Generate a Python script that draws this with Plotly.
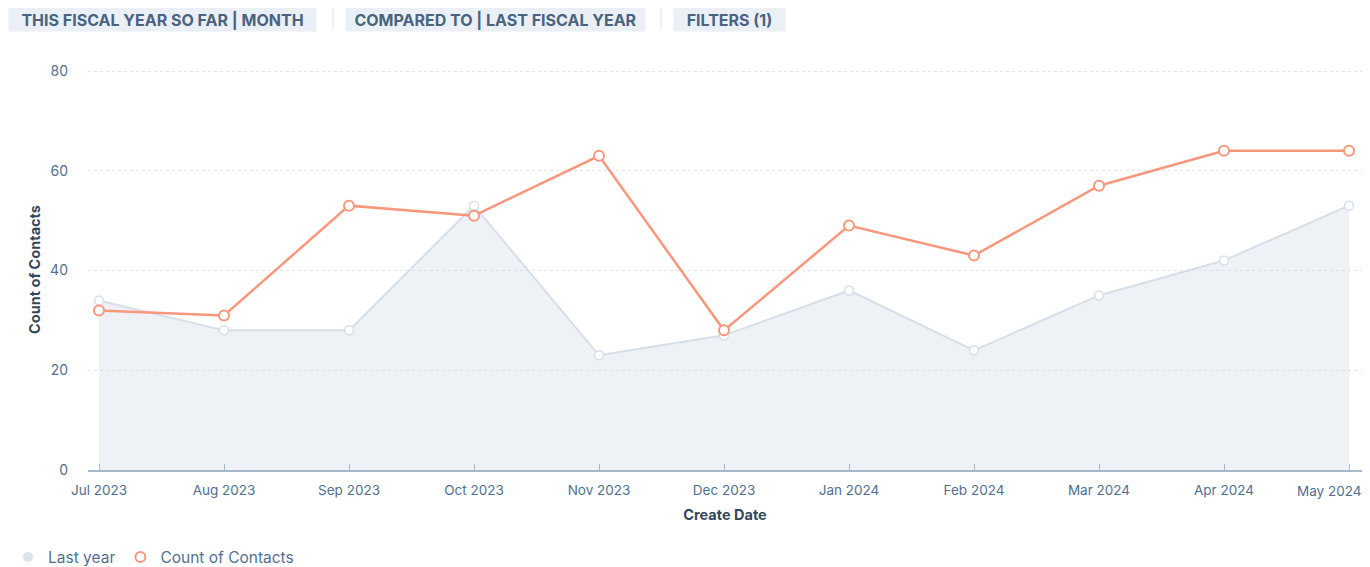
import plotly.graph_objects as go

months = ["Jul 2023", "Aug 2023", "Sep 2023", "Oct 2023", "Nov 2023", "Dec 2023",
          "Jan 2024", "Feb 2024", "Mar 2024", "Apr 2024", "May 2024"]
count_of_contacts = [32, 31, 53, 51, 63, 28, 49, 43, 57, 64, 64]
last_year = [34, 28, 28, 53, 23, 27, 36, 24, 35, 42, 53]
y_ticks = [0, 20, 40, 60, 80]
buttons = ["THIS FISCAL YEAR SO FAR | MONTH", "COMPARED TO | LAST FISCAL YEAR", "FILTERS (1)"]

# page geometry (the page body adds an 8px offset)
OFF = 8
PAGE_W, PAGE_H = 1370, 567
W, H = PAGE_W - OFF, PAGE_H - OFF
PL, PR, PT, PB = 88, 1362, 69, 470.5   # plot box in page pixels
L, R, T, B = PL - OFF, PAGE_W - PR, PT - OFF, PAGE_H - PB
PW, PH = PR - PL, PB - PT
Y_MAX = 80 * (PB - PT) / (PB - 71)

def px(x):
    return (x - PL) / PW

def py(y):
    return (PB - y) / PH

FONT = "Inter"
ORANGE = "#f9977c"
GREY_LINE = "#d6dee8"
GREY_FILL = "rgba(203,214,226,0.33)"
TEXT = "#33475b"
TICK = "#516f90"

fig = go.Figure()
xs = list(range(len(months)))
# last label is drawn as a shifted annotation so it stays inside the page
tick_text = months[:-1] + [""]

fig.add_trace(go.Scatter(
    x=xs, y=last_year, mode="lines+markers", name="Last year",
    line=dict(color=GREY_LINE, width=2), fill="tozeroy", fillcolor=GREY_FILL,
    marker=dict(size=9, color="white", line=dict(color=GREY_LINE, width=1.5)),
    showlegend=False, hoverinfo="y"))
fig.add_trace(go.Scatter(
    x=xs, y=count_of_contacts, mode="lines+markers", name="Count of Contacts",
    line=dict(color=ORANGE, width=2.5),
    marker=dict(size=10, color="white", line=dict(color=ORANGE, width=2)),
    showlegend=False, hoverinfo="y"))
# legend entries
fig.add_trace(go.Scatter(x=[None], y=[None], mode="markers", name="Last year",
                         marker=dict(size=10, color="#dde3ea")))
fig.add_trace(go.Scatter(x=[None], y=[None], mode="markers", name="Count of Contacts",
                         marker=dict(size=10, color="white", line=dict(color=ORANGE, width=2))))

fig.update_xaxes(
    range=[-11 / 125, 10 + 13 / 125], tickvals=xs, ticktext=tick_text,
    showgrid=False, zeroline=False, showline=True, linecolor="#a7b8ca", linewidth=1.5,
    ticks="inside", ticklen=6, tickcolor="#a7b8ca",
    ticklabelstandoff=7,
    tickfont=dict(family=FONT, size=13.5, color=TICK), automargin=False,
    title=dict(text="<b>Create Date</b>", font=dict(family=FONT, size=14.5, color=TEXT), standoff=13))
fig.update_yaxes(
    range=[0, Y_MAX], tickvals=y_ticks, showgrid=True, gridcolor="#dfe5ed", griddash="3px,3px",
    zeroline=False, showline=False, ticklabelstandoff=19, automargin=False,
    tickfont=dict(family=FONT, size=14, color=TICK),
    title=dict(text="<b>Count of Contacts</b>", font=dict(family=FONT, size=14.5, color=TEXT), standoff=6))

annotations = [dict(
    text=months[-1], xref="x", yref="paper", x=xs[-1], y=0, xanchor="center", yanchor="top",
    xshift=-20, yshift=-11, showarrow=False, font=dict(family=FONT, size=13.5, color=TICK))]
btn_boxes = [(8, 317), (345, 646), (673, 786)]
for text, (x0, x1) in zip(buttons, btn_boxes):
    annotations.append(dict(
        text=f"<b>{text}</b>", xref="paper", yref="paper", x=px((x0 + x1) / 2), y=py(19.5),
        xanchor="center", yanchor="middle", showarrow=False,
        width=x1 - x0 - 2, height=23, borderpad=0, bgcolor="#eaf0f6",
        font=dict(family=FONT, size=16, color="#4a6380")))

shapes = []
for sx in (333, 661):
    shapes.append(dict(type="line", xref="paper", yref="paper", x0=px(sx), x1=px(sx),
                       y0=py(6), y1=py(30), line=dict(color="#dfe3eb", width=1)))

fig.update_layout(
    width=W, height=H, margin=dict(l=L, r=R, t=T, b=B, autoexpand=False),
    plot_bgcolor="white", paper_bgcolor="white",
    annotations=annotations, shapes=shapes,
    legend=dict(orientation="h", x=px(8), y=py(558), xanchor="left", yanchor="middle",
                font=dict(family=FONT, size=15.5, color="#516f90"), itemwidth=30,
                bgcolor="rgba(0,0,0,0)"),
    font=dict(family=FONT),
)

fig.write_html("out.html")
